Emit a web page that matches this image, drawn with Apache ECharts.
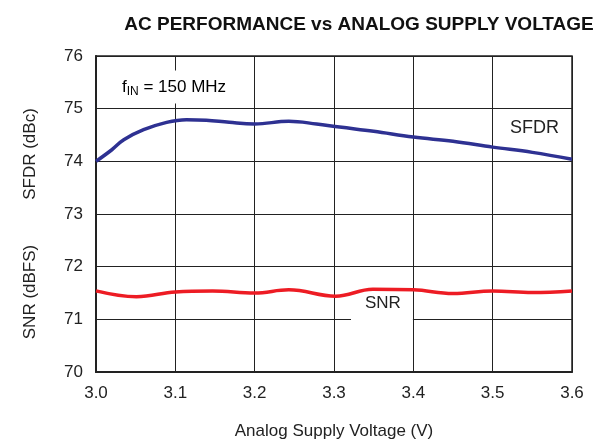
<!DOCTYPE html>
<html>
<head>
<meta charset="utf-8">
<script src="https://cdn.jsdelivr.net/npm/echarts@6/dist/echarts.min.js"></script>
<style>
  html, body { margin: 0; padding: 0; background: #fff; }
  #main { width: 607px; height: 441px; }
</style>
</head>
<body>
<div id="main"></div>
<script>
// supply voltage (V) and measured values
var sfdrVolts = [3.0, 3.02, 3.035, 3.06, 3.089, 3.114, 3.139, 3.168, 3.2, 3.243, 3.278, 3.307, 3.35, 3.4, 3.45, 3.5, 3.55, 3.6];
var sfdrVals  = [74.0, 74.22, 74.41, 74.6, 74.74, 74.79, 74.78, 74.74, 74.71, 74.76, 74.71, 74.65, 74.57, 74.46, 74.38, 74.27, 74.17, 74.04];

var snrVolts = [3.0, 3.051, 3.1, 3.147, 3.2, 3.243, 3.302, 3.349, 3.4, 3.45, 3.5, 3.55, 3.6];
var snrVals  = [71.54, 71.43, 71.52, 71.54, 71.5, 71.56, 71.44, 71.57, 71.56, 71.49, 71.54, 71.51, 71.54];

var xTicks = [3.0, 3.1, 3.2, 3.3, 3.4, 3.5, 3.6];
var yTicks = [70, 71, 72, 73, 74, 75, 76];

function pairs(xs, ys) {
  return xs.map(function (x, i) { return [x, ys[i]]; });
}

var font = '"Liberation Sans", Arial, sans-serif';
var myChart = echarts.init(document.getElementById('main'), null, { renderer: 'canvas' });

var option = {
  animation: false,
  textStyle: { fontFamily: font },
  title: {
    text: 'AC PERFORMANCE vs ANALOG SUPPLY VOLTAGE',
    left: 354,
    top: 10,
    textAlign: 'center',
    textStyle: { fontFamily: font, fontSize: 19, fontWeight: 'bold', color: '#111' }
  },
  grid: { left: 96, right: 35, top: 56, bottom: 69, outerBoundsMode: 'none', containLabel: false },
  xAxis: {
    type: 'value',
    min: xTicks[0],
    max: xTicks[xTicks.length - 1],
    interval: 0.1,
    name: 'Analog Supply Voltage (V)',
    nameLocation: 'middle',
    nameGap: 51,
    nameTextStyle: { fontFamily: font, fontSize: 17, color: '#222' },
    axisLine: { lineStyle: { color: '#222', width: 2 } },
    axisTick: { show: false },
    splitLine: { show: true, lineStyle: { color: '#222', width: 1 } },
    axisLabel: {
      fontFamily: font, fontSize: 17, color: '#222', margin: 13,
      formatter: function (v) { return v.toFixed(1); }
    }
  },
  yAxis: {
    type: 'value',
    min: yTicks[0],
    max: yTicks[yTicks.length - 1],
    interval: 1,
    axisLine: { show: true, lineStyle: { color: '#222', width: 2 } },
    axisTick: { show: false },
    splitLine: { show: true, lineStyle: { color: '#222', width: 1 } },
    axisLabel: { fontFamily: font, fontSize: 17, color: '#222', margin: 13 }
  },
  graphic: [
    {
      type: 'rect', z: 0, silent: true,
      shape: { x: 96, y: 56, width: 476, height: 316 },
      style: { fill: 'none', stroke: '#222', lineWidth: 1.5 }
    },
    {
      type: 'text', x: 30, y: 154, rotation: Math.PI / 2, z: 10,
      style: { text: 'SFDR (dBc)', font: '17px ' + font, fill: '#222', align: 'center', verticalAlign: 'middle' }
    },
    {
      type: 'text', x: 30, y: 292, rotation: Math.PI / 2, z: 10,
      style: { text: 'SNR (dBFS)', font: '17px ' + font, fill: '#222', align: 'center', verticalAlign: 'middle' }
    },
    {
      type: 'text', x: 110, y: 87, z: 10,
      style: {
        text: '{a|f}{b|IN}{a| = 150 MHz}',
        verticalAlign: 'middle',
        backgroundColor: '#fff',
        padding: [6, 12, 6, 12],
        rich: {
          a: { fontFamily: font, fontSize: 17, color: '#222' },
          b: { fontFamily: font, fontSize: 12, color: '#222', padding: [9, 0, 0, 0] }
        }
      }
    },
    {
      type: 'text', x: 510, y: 128, z: 10,
      style: { text: 'SFDR', font: '18px ' + font, fill: '#222', verticalAlign: 'middle' }
    },
    {
      type: 'text', x: 351, y: 295, z: 1,
      style: { text: 'SNR', font: '17px ' + font, fill: '#222', verticalAlign: 'top', align: 'left',
        backgroundColor: '#fff', padding: [0, 12, 10, 14] }
    }
  ],
  series: [
    {
      name: 'SFDR',
      type: 'line',
      smooth: 0.4,
      showSymbol: false,
      z: 5,
      lineStyle: { color: '#2e3192', width: 3.5 },
      data: pairs(sfdrVolts, sfdrVals)
    },
    {
      name: 'SNR',
      type: 'line',
      smooth: 0.4,
      showSymbol: false,
      z: 5,
      lineStyle: { color: '#ed1c24', width: 3.5 },
      data: pairs(snrVolts, snrVals)
    }
  ]
};

myChart.setOption(option);
window.addEventListener('resize', myChart.resize);
</script>
</body>
</html>
